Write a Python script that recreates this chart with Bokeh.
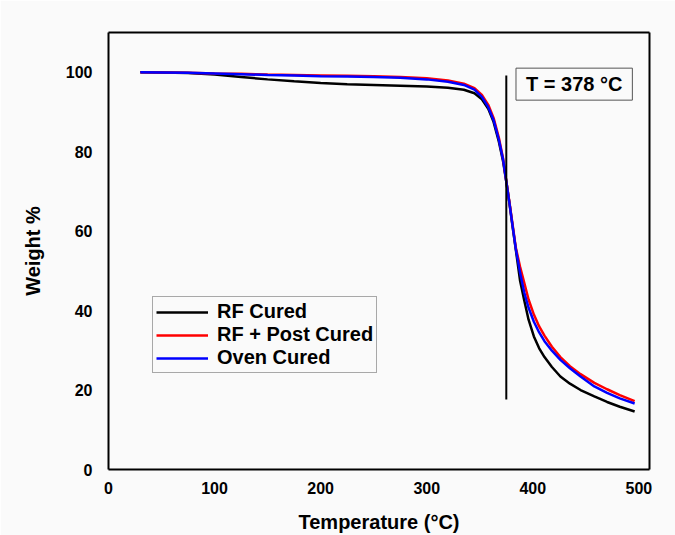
from bokeh.plotting import figure
from bokeh.models import Label, Legend, LegendItem, LinearAxis
from bokeh.embed import file_html
from bokeh.resources import INLINE

# ---- data ----
temp = [30, 50, 75, 100, 125, 150, 175, 200, 225, 250, 275, 300, 320, 335, 345, 352, 358,
        363, 368, 372, 375, 378, 381, 384, 388, 392, 396, 401, 406, 411, 418, 426, 435,
        445, 458, 470, 482, 496]
rf_cured = [100, 99.95, 99.8, 99.4, 98.8, 98.2, 97.7, 97.3, 97.0, 96.8, 96.6, 96.4, 96.1,
            95.6, 94.7, 93.2, 90.8, 87.5, 82.5, 77.5, 72.5, 67.0, 61.0, 55.3, 47.5, 42.5,
            37.7, 33.5, 30.5, 28.3, 25.8, 23.4, 21.6, 20.0, 18.4, 17.0, 15.8, 14.6]
rf_post_cured = [100, 99.95, 99.85, 99.7, 99.6, 99.4, 99.3, 99.2, 99.1, 99.0, 98.8, 98.5,
                 97.9, 97.1, 96.0, 94.3, 91.8, 88.5, 83.5, 78.2, 72.6, 67.2, 61.5, 55.8,
                 51.0, 46.9, 42.8, 39.0, 36.0, 33.7, 30.9, 28.3, 26.0, 24.0, 21.8, 20.2,
                 18.7, 17.2]
oven_cured = [100, 99.95, 99.85, 99.7, 99.5, 99.3, 99.2, 99.0, 98.9, 98.8, 98.6, 98.2,
              97.6, 96.8, 95.6, 93.8, 91.2, 88.0, 83.0, 78.0, 72.5, 67.0, 61.2, 55.5,
              49.5, 44.5, 40.7, 37.2, 34.5, 32.3, 29.9, 27.6, 25.5, 23.4, 20.9, 19.3,
              17.9, 16.6]
series_names = ["RF Cured", "RF + Post Cured", "Oven Cured"]
series_colors = ["black", "red", "blue"]

vline_x = 375
vline_y = [17.6, 99.2]
annot_text = "T = 378 °C"
annot_pos = (439, 97)

x_ticks = [0, 100, 200, 300, 400, 500]
y_ticks = [0, 20, 40, 60, 80, 100]

FONT = "Liberation Sans"
BG = "#fafafa"

p = figure(width=675, height=535, output_backend="svg", toolbar_location=None,
           x_range=(0, 510), y_range=(0, 110),
           min_border_left=108, min_border_right=26, min_border_top=32, min_border_bottom=65,
           background_fill_color=BG, border_fill_color=BG)

p.outline_line_color = None
p.grid.visible = False

for ax in (p.xaxis[0], p.yaxis[0]):
    ax.axis_line_color = "black"
    ax.axis_line_width = 2
    ax.major_tick_line_color = None
    ax.minor_tick_line_color = None
    ax.major_label_text_font = FONT
    ax.major_label_text_font_style = "bold"
    ax.major_label_text_font_size = "16px"
    ax.major_label_text_color = "black"
    ax.axis_label_text_font = FONT
    ax.axis_label_text_font_style = "bold"
    ax.axis_label_text_font_size = "20px"
    ax.axis_label_text_color = "black"

p.xaxis.ticker = x_ticks
p.yaxis.ticker = y_ticks
p.xaxis.axis_label = "Temperature (°C)"
p.yaxis.axis_label = "Weight %"
p.xaxis.major_label_standoff = 6
p.yaxis.major_label_standoff = 10
p.xaxis.axis_label_standoff = 14
p.yaxis.axis_label_standoff = 19

# frame closing axes (top / right), lines only
for side in ("above", "right"):
    a = LinearAxis(axis_line_color="black", axis_line_width=2,
                   major_tick_line_color=None, minor_tick_line_color=None,
                   major_label_text_font_size="0px", major_label_standoff=0)
    a.ticker = []
    p.add_layout(a, side)

renderers = []
for ys, c in zip([rf_cured, rf_post_cured, oven_cured], series_colors):
    r = p.line(temp, ys, line_color=c, line_width=2.5)
    renderers.append(r)

p.line([vline_x, vline_x], vline_y, line_color="black", line_width=2)

legend = Legend(items=[LegendItem(label=n, renderers=[r]) for n, r in zip(series_names, renderers)],
                location=(44, 96))
legend.label_text_font = FONT
legend.label_text_font_style = "bold"
legend.label_text_font_size = "20px"
legend.label_text_color = "black"
legend.label_height = 22
legend.glyph_height = 22
legend.glyph_width = 52
legend.label_standoff = 9
legend.spacing = 0
legend.padding = 3
legend.margin = 0
legend.border_line_color = "#555555"
legend.border_line_width = 1
legend.background_fill_color = BG
legend.background_fill_alpha = 1
p.add_layout(legend, "center")

lab = Label(x=annot_pos[0], y=annot_pos[1], text=annot_text, text_align="center",
            text_baseline="middle", text_font=FONT, text_font_style="bold",
            text_font_size="20px", text_color="black",
            border_line_color="#555555", border_line_width=1,
            background_fill_color=BG, padding=(10, 5))
p.add_layout(lab)

open("out.html", "w").write(file_html(p, INLINE))
